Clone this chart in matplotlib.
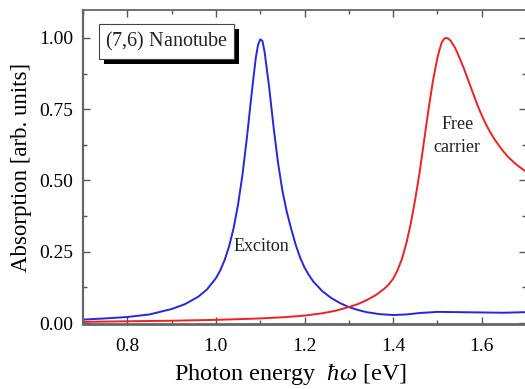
import numpy as np
import matplotlib
matplotlib.use('Agg')
import matplotlib.pyplot as plt
import matplotlib.patheffects as pe
from matplotlib.ticker import MultipleLocator

plt.rcParams['font.family'] = 'Liberation Serif'
plt.rcParams['mathtext.fontset'] = 'custom'
plt.rcParams['mathtext.rm'] = 'Liberation Serif'
plt.rcParams['mathtext.it'] = 'Liberation Serif:italic'

# exciton absorption (blue)
e_exc = [0.70, 0.75, 0.80, 0.85, 0.90, 0.93, 0.96, 0.98, 1.00, 1.01, 1.02, 1.03,
         1.04, 1.05, 1.06, 1.07, 1.08, 1.09, 1.095, 1.10, 1.105, 1.11, 1.12, 1.13,
         1.14, 1.15, 1.16, 1.17, 1.18, 1.19, 1.20, 1.21, 1.22, 1.24, 1.26, 1.28,
         1.30, 1.32, 1.34, 1.37, 1.40, 1.43, 1.46, 1.50, 1.55, 1.60, 1.65, 1.70]
a_exc = [0.012, 0.016, 0.021, 0.030, 0.049, 0.066, 0.092, 0.118, 0.157, 0.185,
         0.222, 0.270, 0.333, 0.415, 0.520, 0.650, 0.795, 0.930, 0.975, 0.995,
         0.990, 0.950, 0.830, 0.690, 0.565, 0.465, 0.390, 0.330, 0.275, 0.230,
         0.195, 0.168, 0.145, 0.112, 0.088, 0.070, 0.056, 0.046, 0.038, 0.031,
         0.028, 0.030, 0.035, 0.039, 0.038, 0.037, 0.036, 0.038]

# free carrier absorption (red)
e_fc = [0.70, 0.80, 0.90, 1.00, 1.10, 1.15, 1.20, 1.24, 1.27, 1.30, 1.32, 1.34,
        1.36, 1.38, 1.39, 1.40, 1.41, 1.42, 1.43, 1.44, 1.45, 1.46, 1.47, 1.48,
        1.49, 1.50, 1.505, 1.51, 1.515, 1.52, 1.525, 1.53, 1.54, 1.55, 1.56,
        1.575, 1.59, 1.595, 1.60, 1.605, 1.61, 1.615, 1.62, 1.625, 1.63, 1.635,
        1.64, 1.65, 1.66, 1.675, 1.69, 1.70]
a_fc = [0.004, 0.006, 0.008, 0.011, 0.016, 0.020, 0.026, 0.034, 0.043, 0.056,
        0.066, 0.080, 0.097, 0.120, 0.135, 0.155, 0.185, 0.225, 0.280, 0.350,
        0.435, 0.530, 0.640, 0.750, 0.850, 0.930, 0.960, 0.985, 0.997, 1.000,
        0.997, 0.990, 0.965, 0.930, 0.892, 0.829, 0.766, 0.747, 0.729, 0.712,
        0.696, 0.681, 0.667, 0.654, 0.642, 0.631, 0.620, 0.600, 0.582, 0.560,
        0.542, 0.531]

fig = plt.figure(figsize=(5.25, 3.89), dpi=100)
ax = fig.add_axes([83/525, 65/389, 443/525, 314/389])

ax.plot(e_exc, a_exc, color='#2626e0', lw=1.4)
ax.plot(e_fc, a_fc, color='#f02020', lw=1.4)

ax.set_xlim(0.7, 1.7)
ax.set_ylim(-0.0035, 1.098)
ax.xaxis.set_major_locator(MultipleLocator(0.2))
ax.xaxis.set_minor_locator(MultipleLocator(0.1))
ax.yaxis.set_major_locator(MultipleLocator(0.25))
ax.yaxis.set_minor_locator(MultipleLocator(0.125))
ax.xaxis.set_major_formatter(plt.FuncFormatter(lambda v, p: '%.1f' % v))
ax.yaxis.set_major_formatter(plt.FuncFormatter(lambda v, p: '%.2f' % v))
ax.tick_params(which='both', direction='in', top=True, right=True,
               color='#555555', labelsize=14, width=1)
ax.tick_params(which='major', length=5, pad=7)
ax.tick_params(axis='x', which='major', pad=10)
ax.tick_params(which='minor', length=3)
for s in ax.spines.values():
    s.set_color('#666666')
    s.set_linewidth(1.3)
ax.spines['bottom'].set_linewidth(2)
ax.spines['left'].set_linewidth(1.6)

ax.set_xlabel(r'Photon energy  $\hbar\omega$ [eV]', fontsize=17.5)
ax.xaxis.set_label_coords(0.468, -0.12)
ax.set_ylabel('Absorption [arb. units]', fontsize=16.5, labelpad=5)

ax.text(1.102, 0.27, 'Exciton', fontsize=13, ha='center', va='center', color='#222222')
ax.text(1.545, 0.655, 'Free\ncarrier', fontsize=13, ha='center', va='center',
        color='#222222', linespacing=1.45)

box = ax.text(0.889, 0.986, r'$\mathit{(7{,}6)}$ Nanotube', fontsize=14.5,
              ha='center', va='center', color='#222222', zorder=5,
              bbox=dict(boxstyle='square,pad=0.3', fc='white', ec='#444444', lw=0.8))
box.get_bbox_patch().set_path_effects([
    pe.SimplePatchShadow(offset=(3.5, -3.5), shadow_rgbFace='black', alpha=1.0),
    pe.Normal()])

plt.savefig('out.png', dpi=100)
